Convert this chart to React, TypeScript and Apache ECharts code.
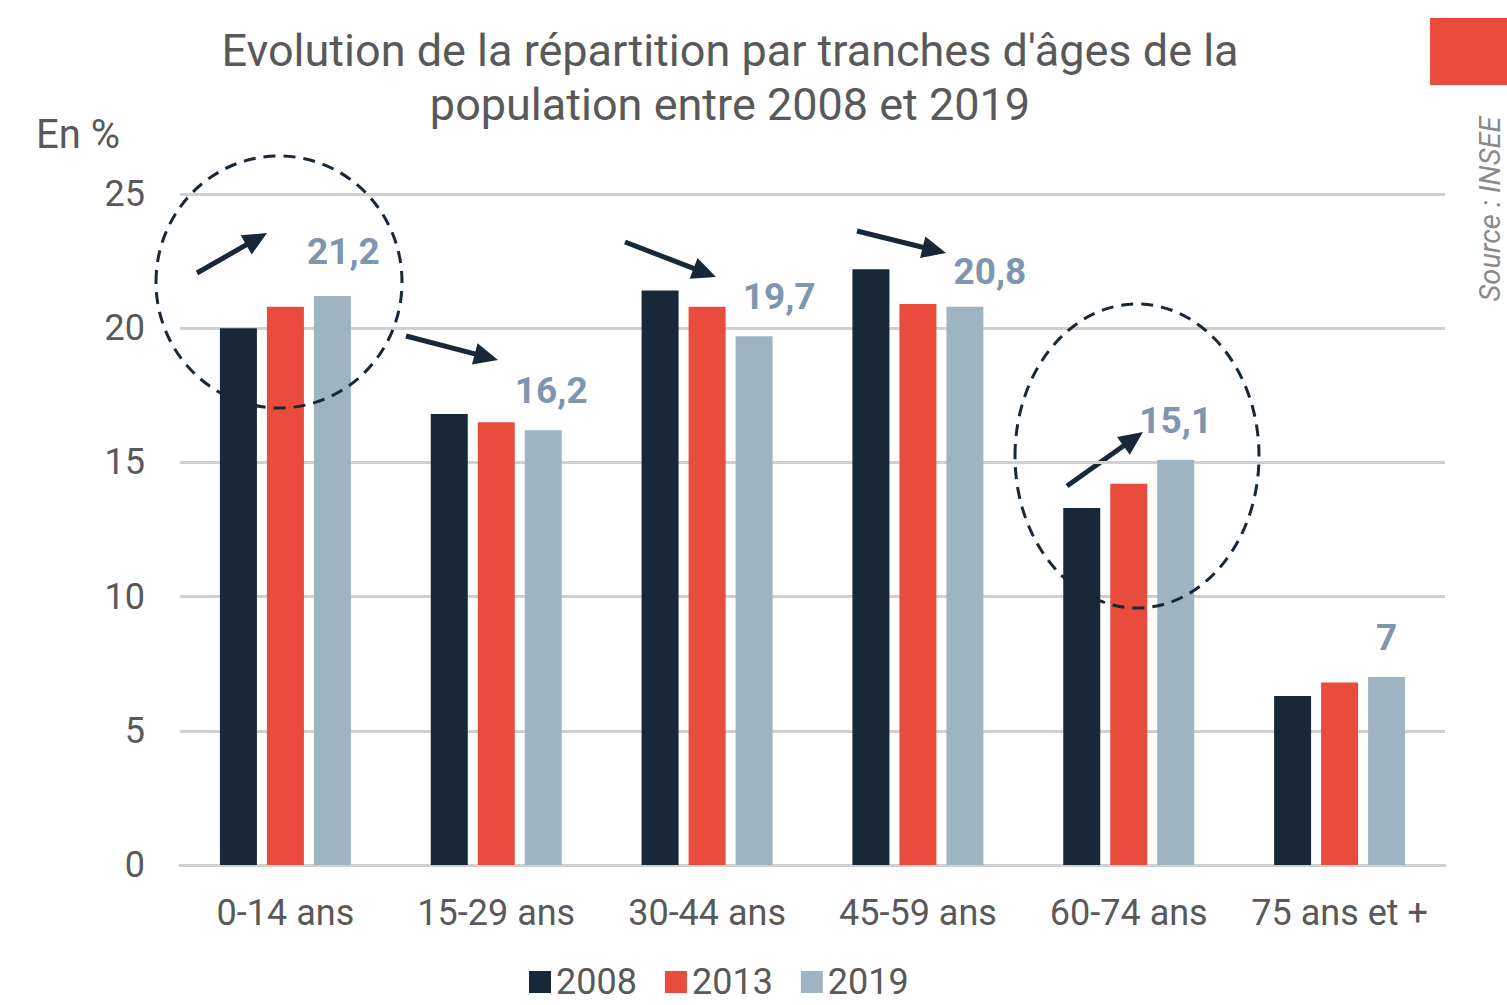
import React, { useEffect, useRef } from "react";
import * as echarts from "echarts";

const categories = ["0-14 ans", "15-29 ans", "30-44 ans", "45-59 ans", "60-74 ans", "75 ans et +"];
const years = ["2008", "2013", "2019"];
const values2008 = [20.0, 16.8, 21.4, 22.2, 13.3, 6.3];
const values2013 = [20.8, 16.5, 20.8, 20.9, 14.2, 6.8];
const values2019 = [21.2, 16.2, 19.7, 20.8, 15.1, 7.0];
const labelOffsetX = [11, 8, 25, 25, 0, 0];
const labelOffsetY = [-2, 3, 3, 7, 3, 3];
const yTicks = [0, 5, 10, 15, 20, 25];

const colors = ["#182838", "#e94b3c", "#9fb4c2"];
const FONT = "Roboto";

function arrow(x1: number, y1: number, x2: number, y2: number) {
  const dx = x2 - x1, dy = y2 - y1;
  const len = Math.sqrt(dx * dx + dy * dy);
  const ux = dx / len, uy = dy / len;
  const head = 24, half = 11;
  const bx = x2 - ux * head, by = y2 - uy * head;
  const px = -uy, py = ux;
  return [
    { type: "line", shape: { x1, y1, x2: bx + ux * 2, y2: by + uy * 2 }, style: { stroke: "#182838", lineWidth: 5 } },
    {
      type: "polygon",
      shape: { points: [[x2, y2], [bx + px * half, by + py * half], [bx - px * half, by - py * half]] },
      style: { fill: "#182838" },
    },
  ];
}

export default function App() {
  const ref = useRef<HTMLDivElement>(null);
  useEffect(() => {
    const chart = echarts.init(ref.current!, null, { renderer: "svg" });
    const seriesData = [values2008, values2013, values2019];
    chart.setOption({
      animation: false,
      backgroundColor: "#ffffff",
      title: {
        text: "Evolution de la répartition par tranches d'âges de la\npopulation entre 2008 et 2019",
        left: 725,
        top: 18,
        textAlign: "center",
        textStyle: { fontFamily: FONT, fontSize: 45, lineHeight: 54, fontWeight: "normal", color: "#595959" },
      },
      legend: {
        data: years,
        top: 959,
        left: 524,
        itemWidth: 22,
        itemHeight: 22,
        itemGap: 28,
        icon: "rect",
        textStyle: { fontFamily: FONT, fontSize: 36, color: "#595959", padding: [0, 0, 0, 0] },
      },
      grid: { left: 180, right: 62, top: 194, bottom: 140, containLabel: false },
      xAxis: {
        type: "category",
        data: categories,
        axisLine: { show: true, lineStyle: { color: "#d0d0d0", width: 3 } },
        axisTick: { show: false },
        axisLabel: { fontFamily: FONT, fontSize: 36, color: "#595959", margin: 30, interval: 0 },
      },
      yAxis: {
        type: "value",
        min: 0,
        max: 25,
        interval: 5,
        name: "En %",
        nameLocation: "end",
        nameGap: 40,
        nameTextStyle: { fontFamily: FONT, fontSize: 40, color: "#595959", align: "left", padding: [0, 0, 0, -144] },
        axisLine: { show: false },
        axisTick: { show: false },
        splitLine: { lineStyle: { color: "#d0d0d0", width: 3 } },
        axisLabel: { fontFamily: FONT, fontSize: 36, color: "#595959", margin: 35, formatter: (v: number) => (yTicks.includes(v) ? String(v) : "") },
      },
      series: years.map((y, i) => ({
        name: y,
        type: "bar",
        barWidth: 37,
        barGap: "27%",
        itemStyle: { color: colors[i] },
        data:
          i === 2
            ? seriesData[i].map((v, k) => ({
                value: v,
                label: {
                  show: true,
                  position: "top",
                  distance: 24,
                  offset: [labelOffsetX[k], labelOffsetY[k]],
                  fontFamily: FONT,
                  fontSize: 37,
                  fontWeight: "bold",
                  color: "#7f95b0",
                  formatter: (p: any) => String(p.value).replace(".", ","),
                },
              }))
            : seriesData[i],
      })),
      graphic: [
        { type: "rect", shape: { x: 1430, y: 18, width: 77, height: 67 }, style: { fill: "#e94b3c" } },
        {
          type: "text",
          x: 1490,
          y: 209,
          rotation: Math.PI / 2,
          style: {
            text: "Source : INSEE",
            fontFamily: FONT,
            fontSize: 29,
            fontStyle: "italic",
            fill: "#8a8a8a",
            align: "center",
            verticalAlign: "middle",
          },
        },
        {
          type: "ellipse",
          shape: { cx: 279, cy: 282, rx: 123, ry: 126 },
          style: { fill: "none", stroke: "#182838", lineWidth: 3, lineDash: [12, 8] },
          z: 100,
        },
        {
          type: "ellipse",
          shape: { cx: 1137, cy: 456, rx: 122, ry: 152 },
          style: { fill: "none", stroke: "#182838", lineWidth: 3, lineDash: [12, 8] },
          z: 100,
        },
        ...arrow(197, 273, 267, 233),
        ...arrow(406, 336, 498, 360),
        ...arrow(625, 242, 716, 277),
        ...arrow(857, 231, 946, 253),
        ...arrow(1067, 486, 1143, 432),
      ],
    });
    return () => chart.dispose();
  }, []);
  return <div ref={ref} style={{ position: "fixed", left: 0, top: 0, width: 1507, height: 1005 }} />;
}
